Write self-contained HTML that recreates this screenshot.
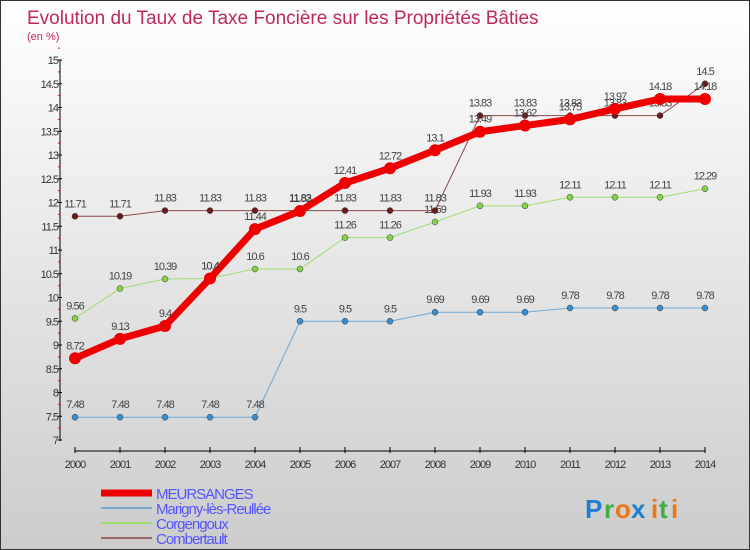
<!DOCTYPE html>
<html><head><meta charset="utf-8"><style>
body{margin:0;width:750px;height:550px;overflow:hidden;font-family:"Liberation Sans",sans-serif}
#wrap{position:relative;width:748px;height:548px;border:1px solid #333;background:linear-gradient(#fff,#ccc)}
</style></head><body>
<div id="wrap">
<svg id="c" width="748" height="548" style="position:absolute;left:0;top:0"></svg>
</div>
<script>
const years=[2000,2001,2002,2003,2004,2005,2006,2007,2008,2009,2010,2011,2012,2013,2014];
const meursanges=[8.72,9.13,9.4,10.4,11.44,11.82,12.41,12.72,13.1,13.49,13.62,13.75,13.97,14.18,14.18];
const marigny=[7.48,7.48,7.48,7.48,7.48,9.5,9.5,9.5,9.69,9.69,9.69,9.78,9.78,9.78,9.78];
const corgengoux=[9.56,10.19,10.39,10.4,10.6,10.6,11.26,11.26,11.59,11.93,11.93,12.11,12.11,12.11,12.29];
const combertault=[11.71,11.71,11.83,11.83,11.83,11.83,11.83,11.83,11.83,13.83,13.83,13.83,13.83,13.83,14.5];
const yTicks=[7,7.5,8,8.5,9,9.5,10,10.5,11,11.5,12,12.5,13,13.5,14,14.5,15];
const NS="http://www.w3.org/2000/svg";
const svg=document.getElementById('c');
const x=i=>74+45*i;
const y=v=>439-(v-7)*47.5;
function el(t,a,p){const e=document.createElementNS(NS,t);for(const k in a)e.setAttribute(k,a[k]);(p||svg).appendChild(e);return e;}
function txt(s,a){const e=el('text',a);e.textContent=s;return e;}
let t=txt('Evolution du Taux de Taxe Foncière sur les Propriétés Bâties',{x:26,y:23,fill:'#c0285a','font-size':19});

t=txt('(en %)',{x:26,y:39,fill:'#c0285a','font-size':11});

let ax=el('line',{x1:59,y1:59,x2:59,y2:440,stroke:'#000','stroke-width':1});

yTicks.forEach(v=>{el('line',{x1:57,x2:61,y1:y(v),y2:y(v),stroke:'#000'});
 el('line',{x1:57,x2:59,y1:y(v+0.25),y2:y(v+0.25),stroke:'#e00'});
 const l=txt(v,{x:57,y:y(v)+4,'text-anchor':'end','font-size':11,fill:'#333','letter-spacing':-1});
 });
ax=el('line',{x1:74,y1:450,x2:704,y2:450,stroke:'#000'});

years.forEach((yr,i)=>{el('line',{x1:x(i),x2:x(i),y1:446,y2:452,stroke:'#000'});
 const l=txt(yr,{x:x(i),y:467,'text-anchor':'middle','font-size':11,fill:'#333','letter-spacing':-1});
 });
function series(d,col,w,r,ptCol,name){
 const g=el('g',{});
 el('polyline',{points:d.map((v,i)=>x(i)+','+y(v)).join(' '),fill:'none',stroke:col,'stroke-width':w},g);
 d.forEach((v,i)=>{const c=el('circle',{cx:x(i),cy:y(v),r:r,fill:ptCol,stroke:w>2?'none':'#333','stroke-width':0.5},g);
  
  const l=txt(v,{x:x(i),y:y(v)-9,'text-anchor':'middle','font-size':11,fill:'#444','letter-spacing':-1},g);
  });
}
series(marigny,'#6fa8d6',1,3,'#3a8fd0','marigny');
series(corgengoux,'#9ede6e',1,3,'#86d34a','corgengoux');
series(combertault,'#8b4a4a',1,3,'#6b1a1a','combertault');
series(meursanges,'#ee0000',7,6,'#ee0000','meursanges');
const leg=[['MEURSANGES','#ee0000',7],['Marigny-lès-Reullée','#7aa8cc',2],['Corgengoux','#9ede6e',2],['Combertault','#9a6666',2]];
leg.forEach((L,i)=>{const g=el('g',{});
 const yy=492+i*15;el('line',{x1:100,x2:151,y1:yy,y2:yy,stroke:L[1],'stroke-width':L[2]},g);
 txt(L[0],{x:155,y:yy+6,'font-size':15,fill:'#5555ff','letter-spacing':-1},g);});
const lg=el('g',{});
[['P','#1e7fd0',584],['r','#44aa44',603],['o','#ee7711',614],['x','#1e7fd0',630],['i','#ee7711',650],['t','#44aa44',658],['i','#ee7711',670]].forEach(c=>{
 txt(c[0],{x:c[2],y:517,'font-size':26,'font-weight':'bold',fill:c[1]},lg);});
</script>
</body></html>
